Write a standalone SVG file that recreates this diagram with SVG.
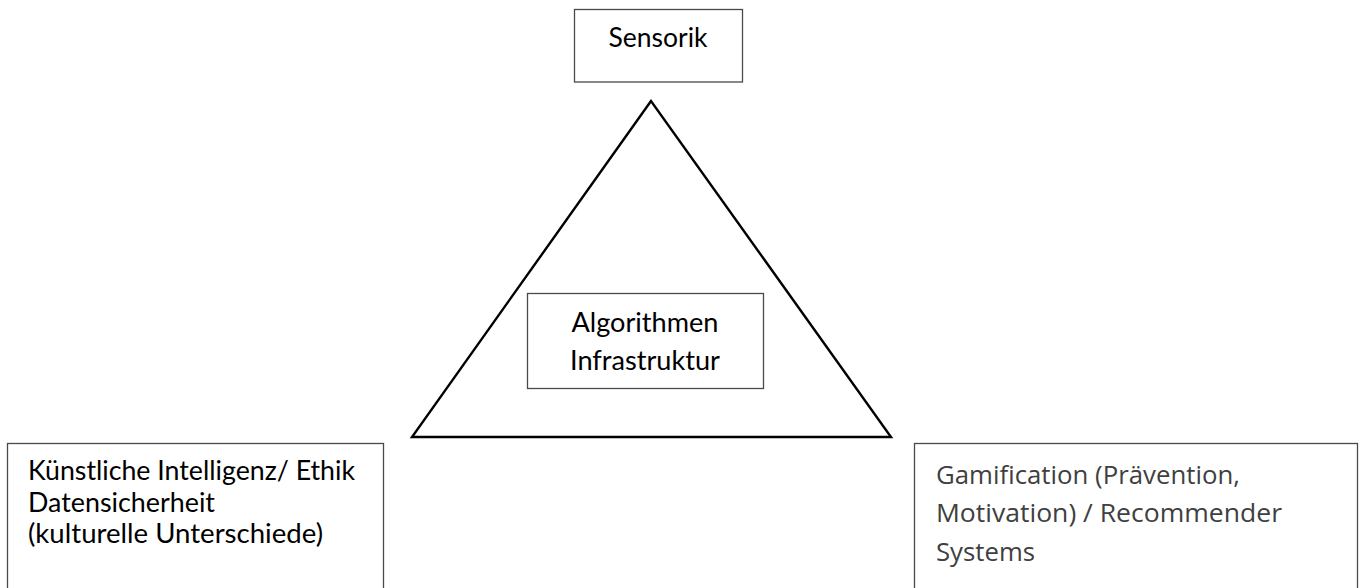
<svg xmlns="http://www.w3.org/2000/svg" width="1362" height="588" viewBox="0 0 1362 588">
  <style>
    .box { fill: #ffffff; stroke: #4a4a4a; stroke-width: 1.3; }
    .cal { font-family: Lato, "Open Sans", "Liberation Sans", sans-serif; font-size: 26px; fill: #000000; }
    .seg { font-family: "Open Sans", "Noto Sans", "Liberation Sans", sans-serif; font-size: 25px; fill: #404040; }
    .tri { fill: none; stroke: #000000; stroke-width: 2.4; stroke-linejoin: miter; }
  </style>
  <rect width="1362" height="588" fill="#ffffff"/>
  <g id="connectors">
    <polygon class="tri" points="651,101 412,437 891,437"/>
  </g>
  <g id="node-sensorik">
    <rect class="box" x="574.5" y="9.5" width="168" height="72.5"/>
    <text class="cal" x="658" y="47" text-anchor="middle" textLength="99" lengthAdjust="spacingAndGlyphs">Sensorik</text>
  </g>
  <g id="node-algorithmen">
    <rect class="box" x="527.5" y="293.5" width="236" height="95"/>
    <text class="cal" x="645" y="332" text-anchor="middle" textLength="147" lengthAdjust="spacingAndGlyphs">Algorithmen</text>
    <text class="cal" x="645" y="370" text-anchor="middle" textLength="150" lengthAdjust="spacingAndGlyphs">Infrastruktur</text>
  </g>
  <g id="node-ki">
    <rect class="box" x="7.5" y="443.5" width="376" height="160"/>
    <text class="cal" x="28" y="480" textLength="327" lengthAdjust="spacingAndGlyphs">Künstliche Intelligenz/ Ethik</text>
    <text class="cal" x="28" y="512" textLength="187" lengthAdjust="spacingAndGlyphs">Datensicherheit</text>
    <text class="cal" x="28" y="543" textLength="295" lengthAdjust="spacingAndGlyphs">(kulturelle Unterschiede)</text>
  </g>
  <g id="node-gamification">
    <rect class="box" x="914.5" y="443.5" width="443" height="160"/>
    <text class="seg" x="936" y="484" textLength="304" lengthAdjust="spacingAndGlyphs">Gamification (Prävention,</text>
    <text class="seg" x="936" y="522" textLength="346" lengthAdjust="spacingAndGlyphs">Motivation) / Recommender</text>
    <text class="seg" x="936" y="561" textLength="99" lengthAdjust="spacingAndGlyphs">Systems</text>
  </g>
</svg>
